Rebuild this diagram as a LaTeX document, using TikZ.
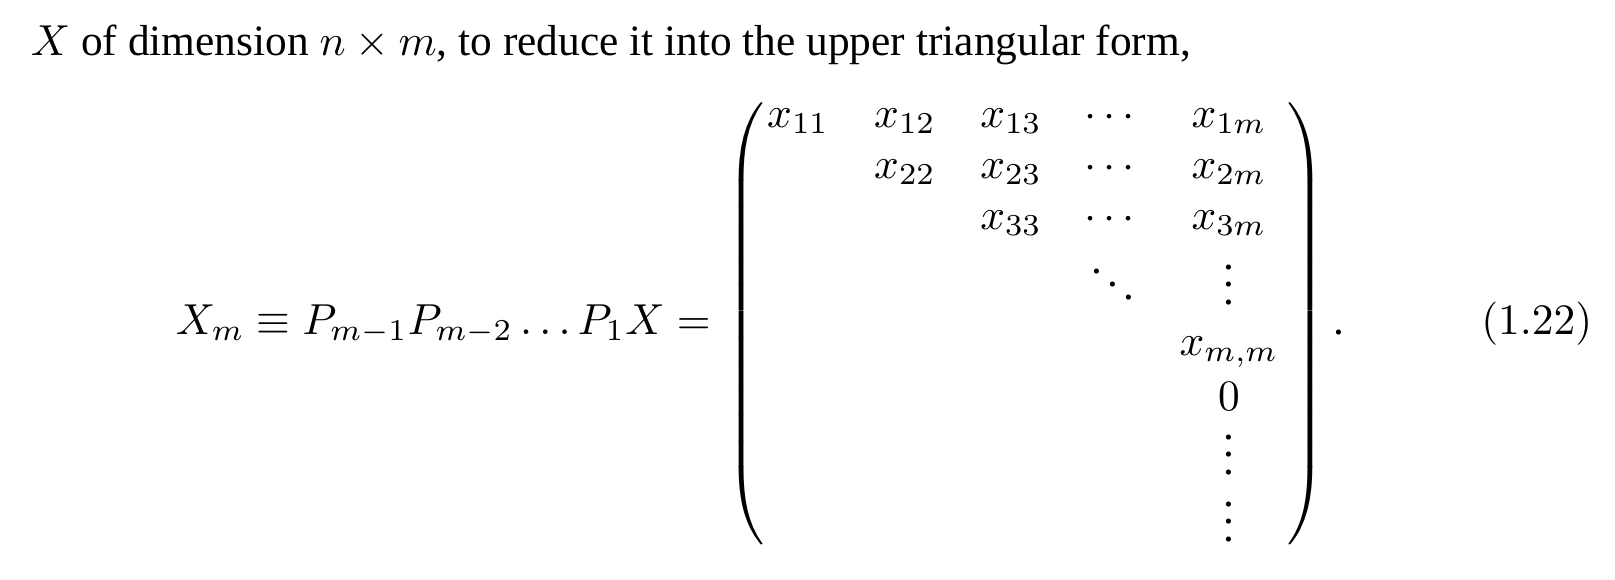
\documentclass[tikz,border=0pt]{standalone}
\usepackage{amsmath, amssymb}
\usepackage[no-math]{fontspec}
\setmainfont{Liberation Serif}
\usetikzlibrary{positioning}

\begin{document}
\begin{tikzpicture}[x=0.00811cm,y=-0.00811cm]
\tikzstyle{entry}=[anchor=base,inner sep=0pt]
\tikzstyle{lparen}=[anchor=west,inner sep=0pt]
\tikzstyle{rparen}=[anchor=east,inner sep=0pt]
\useasboundingbox (0,0) rectangle (1615,579);
% the line of text above
\node[anchor=base west,inner sep=0pt] (intro) at (30,55)
  {$X$ of dimension $n\times m$, to reduce it into the upper triangular form,};
% left-hand side
\node[anchor=base west,inner sep=0pt] (lhs) at (175,334)
  {$X_m\equiv P_{m-1}P_{m-2}\ldots P_1X=$};
% the two parentheses
\node[lparen] (lpar) at (726,324) {$\left(\vcenter{\hrule height 106pt width 0pt}\right.$};
\node[rparen] (rpar) at (1326,324) {$\left.\vcenter{\hrule height 106pt width 0pt}\right)$};
% upper rows
\node[entry] (x11) at (798,127) {$x_{11}$};
\node[entry] (x12) at (905,127) {$x_{12}$};
\node[entry] (x13) at (1011,127) {$x_{13}$};
\node[entry] (c1) at (1113,127) {$\cdots$};
\node[entry] (x1m) at (1229,127) {$x_{1m}$};
\node[entry] (x22) at (905,178) {$x_{22}$};
\node[entry] (x23) at (1011,178) {$x_{23}$};
\node[entry] (c2) at (1113,178) {$\cdots$};
\node[entry] (x2m) at (1229,178) {$x_{2m}$};
\node[entry] (x33) at (1011,229) {$x_{33}$};
\node[entry] (c3) at (1113,229) {$\cdots$};
\node[entry] (x3m) at (1229,229) {$x_{3m}$};
% dots and the last column
\node[entry] (dd) at (1113,304) {$\ddots$};
\node[entry] (v1) at (1229,304) {$\vdots$};
\node[entry] (xmm) at (1229,355) {$x_{m,m}$};
\node[entry] (zero) at (1229,410) {$0$};
\node[entry] (v2) at (1229,474) {$\vdots$};
\node[entry] (v3) at (1229,541) {$\vdots$};
% full stop and number
\node[entry] (stop) at (1339,334) {.};
\node[anchor=base east,inner sep=0pt] (eqno) at (1593,334) {$(1.22)$};
\end{tikzpicture}
\end{document}
